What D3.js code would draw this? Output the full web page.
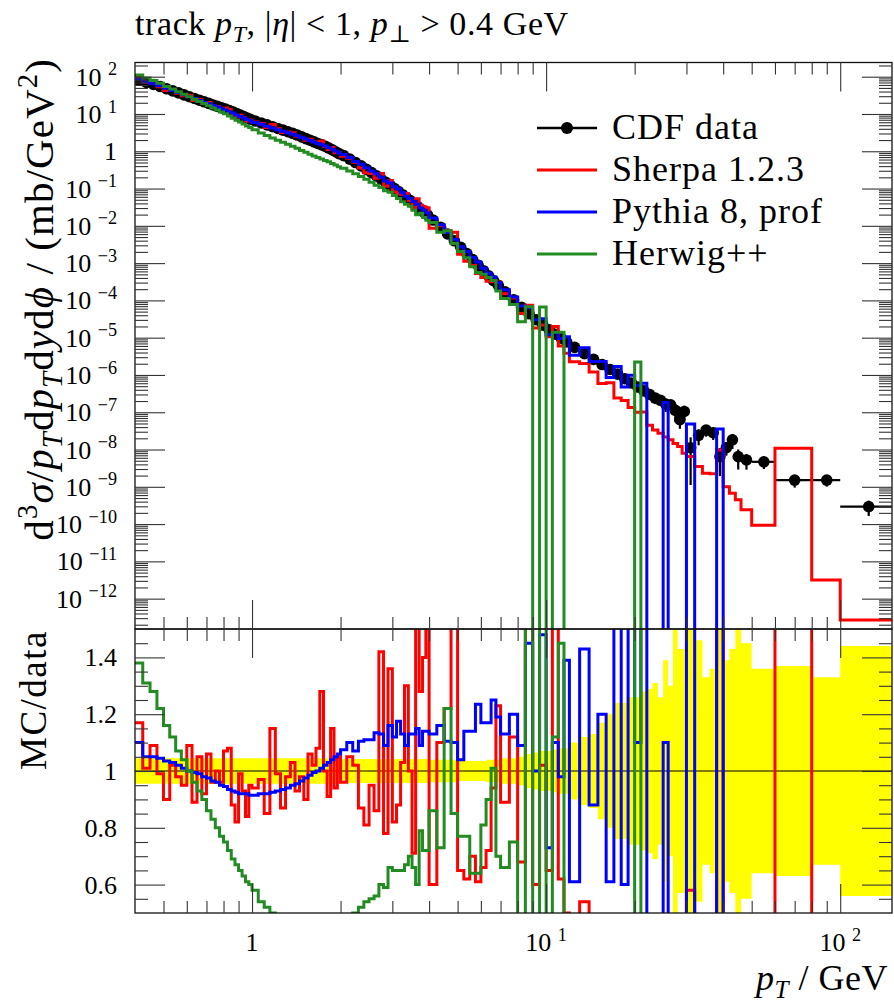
<!DOCTYPE html>
<html><head><meta charset="utf-8">
<script src="https://cdn.jsdelivr.net/npm/d3@7"></script>
<style>
body{margin:0;background:#fff;}
svg{display:block;}
text{font-family:"Liberation Serif","DejaVu Serif",serif;fill:#000;}
</style></head><body>
<svg id="c" width="894" height="1002"></svg>
<script>
// ---------------- data ----------------
const binEdges = [
 0.4,0.425,0.45,0.475,0.5,0.525,0.55,0.575,0.6,0.625,0.65,0.675,0.7,0.725,0.75,0.775,0.8,0.825,0.85,0.875,0.9,0.925,0.95,0.975,
 1.0,1.05,1.1,1.15,1.2,1.25,1.3,1.35,1.4,1.45,1.5,1.55,1.6,1.65,1.7,1.75,1.8,1.85,1.9,1.95,
 2.0,2.1,2.2,2.3,2.4,2.5,2.6,2.7,2.8,2.9,3.0,3.1,3.2,3.3,3.4,3.5,3.6,3.7,3.8,3.9,
 4.0,4.25,4.5,4.75,5.0,5.25,5.5,5.75,6.0,6.25,6.5,6.75,
 7.0,7.5,8.0,8.5,9.0,9.5,10,10.5,11,11.5,
 12,13,14,15,16,17,18,19,20,21,22,23,24,25,26,27,28,29,
 30,32,34,36,38,40,42,44,
 46,50,60,80,100,150];

const cdfData = [
 80.5,70.2,61.7,54.5,47.4,41.7,36.8,32.6,29.0,26.0,23.4,21.2,19.3,17.5,16.0,14.7,13.5,12.3,11.2,10.2,9.33,8.51,7.76,7.21,
 6.50,5.74,5.11,4.56,4.09,3.69,3.34,3.03,2.72,2.44,2.19,1.98,1.79,1.62,1.48,1.35,1.22,1.09,0.971,0.867,
 0.764,0.615,0.498,0.406,0.327,0.267,0.219,0.178,0.147,0.121,0.100,0.0826,0.0684,0.0569,0.0478,0.0395,0.0331,0.0277,0.0233,0.0196,
 1.43e-2,9.19e-3,6.03e-3,3.97e-3,2.65e-3,1.80e-3,1.24e-3,8.69e-4,6.25e-4,4.55e-4,3.37e-4,2.54e-4,
 1.70e-4,1.03e-4,6.53e-5,4.37e-5,3.03e-5,2.16e-5,1.63e-5,1.24e-5,9.64e-6,7.66e-6,
 5.51e-6,3.74e-6,2.62e-6,1.90e-6,1.40e-6,1.05e-6,7.91e-7,6.10e-7,4.74e-7,3.75e-7,2.99e-7,2.40e-7,2.09e-7,1.66e-7,1.58e-7,1.12e-7,6.31e-8,1.05e-7,
 1.12e-8,2.40e-8,3.31e-8,2.82e-8,6.46e-9,1.12e-8,1.82e-8,6.46e-9,
 5.25e-9,4.68e-9,1.51e-9,1.51e-9,2.95e-10];

const cdfRelErr = [
 0.045,0.045,0.045,0.045,0.045,0.045,0.045,0.045,0.045,0.045,0.045,0.045,0.045,0.045,0.045,0.045,0.045,0.045,0.045,0.045,0.045,0.045,0.045,0.045,
 0.045,0.045,0.045,0.045,0.045,0.045,0.045,0.045,0.045,0.045,0.045,0.045,0.045,0.045,0.045,0.045,0.045,0.045,0.045,0.045,
 0.042,0.042,0.042,0.042,0.042,0.042,0.042,0.042,0.042,0.042,0.042,0.042,0.042,0.042,0.042,0.042,0.042,0.042,0.042,0.042,
 0.04,0.04,0.04,0.04,0.035,0.035,0.035,0.035,0.035,0.04,0.04,0.04,
 0.045,0.045,0.05,0.06,0.065,0.07,0.07,0.075,0.08,0.08,
 0.1,0.12,0.13,0.17,0.2,0.24,0.24,0.26,0.26,0.28,0.29,0.31,0.26,0.39,0.3,0.5,0.43,0.43,
 0.9,0.46,0.33,0.36,0.7,0.39,0.43,0.55,
 0.45,0.36,0.37,0.33,0.44];

const sherpaRatio = [
 1.17,1.01,1.09,0.99,0.90,1.02,0.98,0.95,1.09,0.89,1.05,0.92,1.06,0.96,1.00,0.96,1.07,1.08,0.88,0.82,0.99,0.93,0.84,0.95,
 0.94,0.97,0.85,1.15,0.99,0.87,0.98,1.03,0.93,0.98,0.90,1.06,1.02,1.08,1.28,1.00,0.91,1.15,0.94,1.05,
 0.96,1.05,1.02,0.87,0.81,0.95,0.86,1.42,0.78,1.36,0.82,0.88,1.03,1.30,1.00,0.71,1.60,1.28,1.40,1.55,
 0.60,1.10,1.22,1.70,0.65,0.62,0.70,0.61,0.66,0.72,0.94,1.23,
 0.89,1.12,0.68,1.70,0.60,1.02,0.65,1.60,0.62,0.50,
 0.41,0.54,0.46,0.31,0.44,0.23,0.26,0.22,0.21,0.27,0.15,0.14,0.13,0.13,0.115,0.13,0.19,0.076,
 0.58,0.145,0.07,0.08,1.51,0.09,0.037,0.07,
 0.046,0.02,7.2,0.0021,0.00091];

const pythiaRatio = [
 1.10,1.05,1.05,1.045,1.035,1.03,1.02,1.01,1.00,0.995,0.99,0.98,0.975,0.965,0.96,0.95,0.945,0.935,0.93,0.925,0.92,0.92,0.92,0.915,
 0.915,0.92,0.92,0.925,0.93,0.935,0.94,0.95,0.955,0.965,0.975,0.985,0.995,1.00,1.01,1.02,1.03,1.04,1.05,1.06,
 1.075,1.10,1.07,1.105,1.11,1.11,1.135,1.13,1.09,1.16,1.12,1.175,1.13,1.09,1.13,1.13,1.15,1.09,1.14,1.14,
 1.13,1.16,1.105,1.10,1.04,1.14,1.14,1.235,1.17,1.17,1.25,1.19,
 1.13,1.20,1.09,1.45,1.00,1.48,0.73,1.10,0.98,1.39,
 0.61,1.43,0.88,1.20,0.61,1.60,0.60,1.60,1.10,1.60,0,0,0,1.10,0,0,0,0,
 4.3,0,0,0,5.5,0,0,0,
 0,0,0,0,0];

const herwigRatio = [
 1.38,1.31,1.28,1.22,1.16,1.12,1.07,1.04,1.00,0.96,0.93,0.90,0.86,0.83,0.80,0.77,0.75,0.72,0.69,0.67,0.65,0.63,0.61,0.60,
 0.58,0.54,0.52,0.50,0.48,0.47,0.46,0.45,0.44,0.43,0.43,0.42,0.42,0.42,0.42,0.42,0.43,0.43,0.44,0.44,
 0.46,0.48,0.50,0.52,0.54,0.55,0.56,0.60,0.59,0.66,0.65,0.65,0.65,0.67,0.70,0.66,0.60,0.79,0.72,0.72,
 0.86,0.73,1.22,0.85,0.77,0.77,0.64,0.64,0.81,0.90,1.01,0.70,
 0.66,0.75,0.41,1.55,0,3.1,0,1.12,1.45,0,
 0,0,0,0,0,0,0,0,4.7,0,0,0,0,0,0,0,0,0,
 0,0,0,0,0,0,0,0,
 0,0,0,0,0];

const mainYExponents = [-12,-11,-10,-9,-8,-7,-6,-5,-4,-3,-2,-1,0,1,2];
const ratioYTicks = [0.6,0.8,1.0,1.2,1.4];
const ratioYLabels = ["0.6","0.8","1","1.2","1.4"];
const xMajorTicks = [1,10,100];
const xMajorExp = [0,1,2];
const seriesNames = ["CDF data","Sherpa 1.2.3","Pythia 8, prof","Herwig++"];
const seriesColors = ["#000000","#ff0000","#0000ff","#228b22"];

// ---------------- layout ----------------
const L=135,R=892,T=62.5,M=629,B=913;
const svg=d3.select("#c");
const x=d3.scaleLog().domain([0.4,150]).range([L,R]);
const y=d3.scaleLog().domain([Math.pow(10,-12.814),Math.pow(10,2.381)]).range([M,T]);
const yr=d3.scaleLinear().domain([0.5,1.5]).range([B,M]);

const defs=svg.append("defs");
defs.append("clipPath").attr("id","cm").append("rect").attr("x",L).attr("y",T).attr("width",R-L).attr("height",M-T);
defs.append("clipPath").attr("id","cr").append("rect").attr("x",L).attr("y",M).attr("width",R-L).attr("height",B-M);

function richText(sel,parts,size){
  let cur=0;
  parts.forEach(p=>{
    const ts=sel.append("tspan").text(p.t);
    const target=p.sub?size*0.22:(p.sup?-size*0.4:0);
    if(target-cur!==0) ts.attr("dy",target-cur);
    cur=target;
    if(p.sub||p.sup) ts.attr("font-size",size*0.7);
    if(p.it) ts.attr("font-style","italic");
  });
}

// ---------- ratio band ----------
const gR=svg.append("g").attr("clip-path","url(#cr)");
const bandPts=[];
cdfRelErr.forEach((e,i)=>{
  bandPts.push([binEdges[i],1+e,1-e],[binEdges[i+1],1+e,1-e]);
});
gR.append("path").attr("d",d3.area().x(d=>x(d[0])).y0(d=>yr(d[2])).y1(d=>yr(d[1]))(bandPts))
  .attr("fill","#ffff00").attr("stroke","none");
gR.append("line").attr("x1",L).attr("x2",R).attr("y1",yr(1)).attr("y2",yr(1)).attr("stroke","#000").attr("stroke-width",1.2);

function stepPts(vals,fy,below){
  const pts=[];
  vals.forEach((v,i)=>{
    const yy=v>0?fy(v):below;
    pts.push([x(binEdges[i]),yy],[x(binEdges[i+1]),yy]);
  });
  return pts;
}
const lineGen=d3.line().x(d=>d[0]).y(d=>d[1]);
const ratios=[sherpaRatio,pythiaRatio,herwigRatio];
ratios.forEach((r,k)=>{
  gR.append("path").attr("d",lineGen(stepPts(r,yr,B+30)))
    .attr("fill","none").attr("stroke",seriesColors[k+1]).attr("stroke-width",3);
});

// ---------- main panel ----------
const gM=svg.append("g").attr("clip-path","url(#cm)");
const gD=gM.append("g");
cdfData.forEach((v,i)=>{
  const lo=binEdges[i],hi=binEdges[i+1],xc=(lo+hi)/2,e=cdfRelErr[i];
  gD.append("line").attr("x1",x(lo)).attr("x2",x(hi)).attr("y1",y(v)).attr("y2",y(v)).attr("stroke","#000").attr("stroke-width",2.2);
  gD.append("line").attr("x1",x(xc)).attr("x2",x(xc)).attr("y1",y(v*(1+e))).attr("y2",y(Math.max(v*(1-e),1e-14))).attr("stroke","#000").attr("stroke-width",2.2);
});
cdfData.forEach((v,i)=>{
  const xc=(binEdges[i]+binEdges[i+1])/2;
  gD.append("circle").attr("cx",x(xc)).attr("cy",y(v)).attr("r",5.8).attr("fill","#000");
});
ratios.forEach((r,k)=>{
  const vals=r.map((q,i)=>q*cdfData[i]);
  gM.append("path").attr("d",lineGen(stepPts(vals,y,M+30)))
    .attr("fill","none").attr("stroke",seriesColors[k+1]).attr("stroke-width",3);
});

// ---------- frames ----------
svg.append("rect").attr("x",L).attr("y",T).attr("width",R-L).attr("height",M-T).attr("fill","none").attr("stroke","#111").attr("stroke-width",1.3);
svg.append("rect").attr("x",L).attr("y",M).attr("width",R-L).attr("height",B-M).attr("fill","none").attr("stroke","#111").attr("stroke-width",1.3);

// ---------- ticks ----------
function tickAxis(gen,tr){
  const g=svg.append("g").attr("transform",tr).call(gen);
  g.select(".domain").remove();
  g.selectAll("text").remove();
  g.selectAll("line").attr("stroke","#333").attr("stroke-width",1.1);
}
const xMinor=[0.5,0.6,0.7,0.8,0.9,2,3,4,5,6,7,8,9,20,30,40,50,60,70,80,90];
[T,M].forEach(yy=>{
  tickAxis(d3.axisTop(x).tickValues(xMajorTicks).tickSize(-29).tickFormat(""),`translate(0,${yy})`);
  tickAxis(d3.axisTop(x).tickValues(xMinor).tickSize(-12).tickFormat(""),`translate(0,${yy})`);
});
[M,B].forEach(yy=>{
  tickAxis(d3.axisBottom(x).tickValues(xMajorTicks).tickSize(-29).tickFormat(""),`translate(0,${yy})`);
  tickAxis(d3.axisBottom(x).tickValues(xMinor).tickSize(-12).tickFormat(""),`translate(0,${yy})`);
});
const yMajorVals=mainYExponents.map(e=>Math.pow(10,e));
const yMinorVals=[];
for(let e=-13;e<=2;e++){for(let k=2;k<=9;k++){const v=k*Math.pow(10,e);if(v>y.domain()[0]&&v<y.domain()[1])yMinorVals.push(v);}}
tickAxis(d3.axisLeft(y).tickValues(yMajorVals).tickSize(-30).tickFormat(""),`translate(${L},0)`);
tickAxis(d3.axisLeft(y).tickValues(yMinorVals).tickSize(-13).tickFormat(""),`translate(${L},0)`);
tickAxis(d3.axisRight(y).tickValues(yMajorVals).tickSize(-30).tickFormat(""),`translate(${R},0)`);
tickAxis(d3.axisRight(y).tickValues(yMinorVals).tickSize(-13).tickFormat(""),`translate(${R},0)`);
const rMinor=[0.55,0.65,0.7,0.75,0.85,0.9,0.95,1.05,1.1,1.15,1.25,1.3,1.35,1.45];
tickAxis(d3.axisLeft(yr).tickValues(ratioYTicks).tickSize(-30).tickFormat(""),`translate(${L},0)`);
tickAxis(d3.axisLeft(yr).tickValues(rMinor).tickSize(-13).tickFormat(""),`translate(${L},0)`);
tickAxis(d3.axisRight(yr).tickValues(ratioYTicks).tickSize(-30).tickFormat(""),`translate(${R},0)`);
tickAxis(d3.axisRight(yr).tickValues(rMinor).tickSize(-13).tickFormat(""),`translate(${R},0)`);

// ---------- tick labels ----------
const TL=26;
mainYExponents.forEach(e=>{
  const t=svg.append("text").attr("x",117).attr("y",y(Math.pow(10,e))+9).attr("text-anchor","end").attr("font-size",TL);
  if(e===0){t.text("1");}
  else richText(t,[{t:"10 "},{t:(e<0?"\u2212":"")+Math.abs(e),sup:true}],TL);
});
ratioYTicks.forEach((v,i)=>{
  svg.append("text").attr("x",117).attr("y",yr(v)+9).attr("text-anchor","end").attr("font-size",TL).text(ratioYLabels[i]);
});
xMajorTicks.forEach((v,i)=>{
  const t=svg.append("text").attr("x",x(v)).attr("y",951).attr("text-anchor","middle").attr("font-size",TL);
  if(xMajorExp[i]===0) t.text("1");
  else richText(t,[{t:"10 "},{t:String(xMajorExp[i]),sup:true}],TL);
});

// ---------- titles ----------
const tt=svg.append("text").attr("x",135).attr("y",35).attr("font-size",34).attr("letter-spacing",0.6);
richText(tt,[{t:"track "},{t:"p",it:true},{t:"T",it:true,sub:true},{t:", |"},{t:"η",it:true},{t:"| < 1, "},{t:"p",it:true},{t:"⊥",sub:true},{t:" > 0.4 GeV"}],34);

const yt=svg.append("text").attr("transform","translate(53,58) rotate(-90)").attr("text-anchor","end").attr("font-size",41).attr("letter-spacing",1.1);
richText(yt,[{t:"d"},{t:"3",sup:true},{t:"σ",it:true},{t:"/"},{t:"p",it:true},{t:"T",it:true,sub:true},{t:"d"},{t:"p",it:true},{t:"T",it:true,sub:true},{t:"d"},{t:"y",it:true},{t:"d"},{t:"ϕ",it:true},{t:" / (mb/GeV"},{t:"2",sup:true},{t:")"}],41);

svg.append("text").attr("transform","translate(46,630) rotate(-90)").attr("text-anchor","end").attr("font-size",37).attr("letter-spacing",1.5).text("MC/data");

const xt=svg.append("text").attr("x",888).attr("y",990).attr("text-anchor","end").attr("font-size",36).attr("letter-spacing",0.5);
richText(xt,[{t:"p",it:true},{t:"T",it:true,sub:true},{t:" / GeV"}],36);

// ---------- legend ----------
const legY=[128,170,212,254];
seriesNames.forEach((n,i)=>{
  svg.append("line").attr("x1",537).attr("x2",597).attr("y1",legY[i]).attr("y2",legY[i]).attr("stroke",seriesColors[i]).attr("stroke-width",i===0?2.5:3);
  if(i===0) svg.append("circle").attr("cx",567).attr("cy",legY[i]).attr("r",6).attr("fill","#000");
  svg.append("text").attr("x",612).attr("y",legY[i]+11).attr("font-size",36).attr("letter-spacing",1.0).text(n);
});
</script>
</body></html>
